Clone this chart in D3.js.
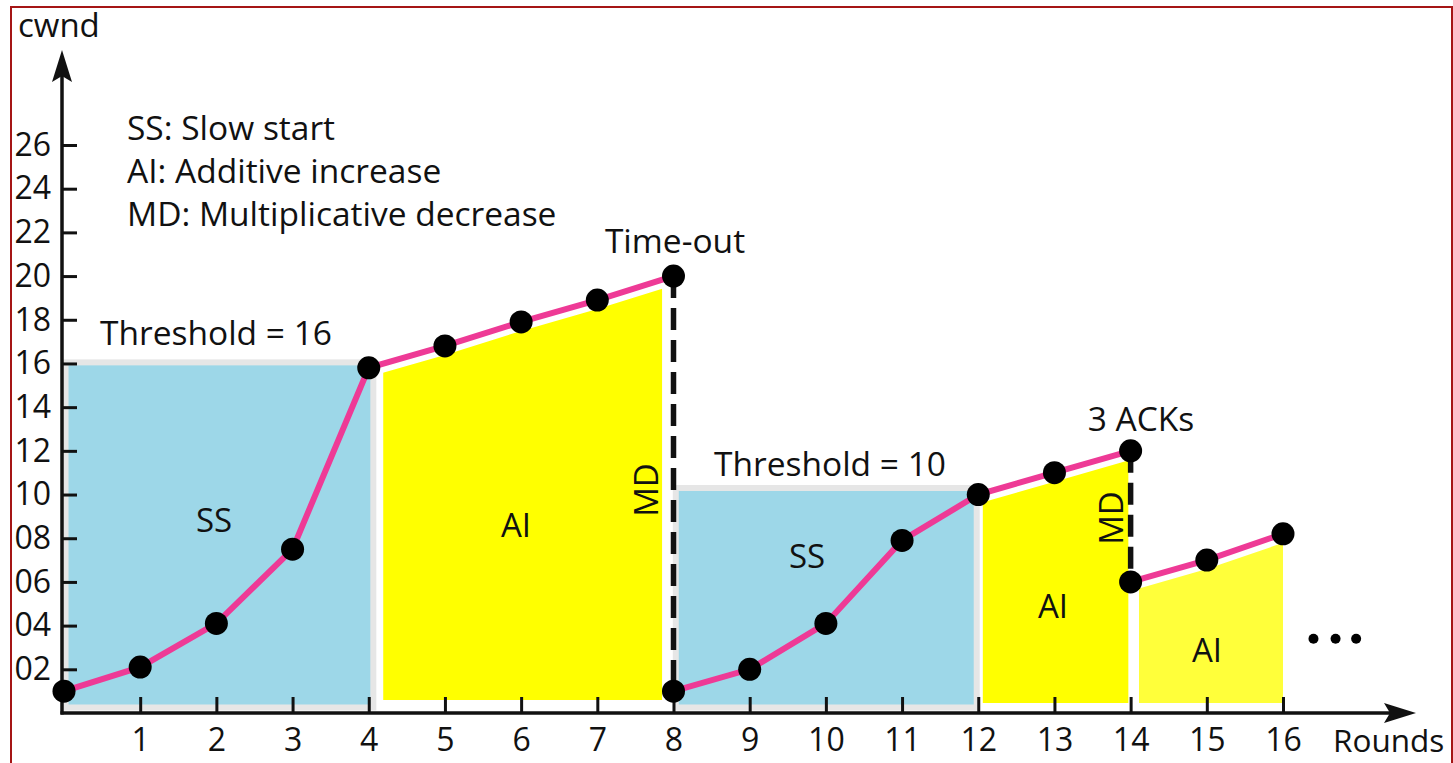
<!DOCTYPE html>
<html>
<head>
<meta charset="utf-8">
<script src="https://cdn.jsdelivr.net/npm/d3@7"></script>
<style>
  body { margin: 0; background: #fff; }
  text { font-family: "Open Sans", "Noto Sans", sans-serif; fill: #111; }
</style>
</head>
<body>
<div id="wrapper"></div>
<script>
// rounds and cwnd values
const rounds1 = [0, 1, 2, 3, 4, 5, 6, 7, 8];
const cwnd1 = [1, 2.1, 4.1, 7.5, 15.8, 16.8, 17.9, 18.9, 20];
const rounds2 = [8, 9, 10, 11, 12, 13, 14];
const cwnd2 = [1, 2, 4.1, 7.9, 10, 11, 12];
const rounds3 = [14, 15, 16];
const cwnd3 = [6, 7, 8.2];

const xTicks = [1, 2, 3, 4, 5, 6, 7, 8, 9, 10, 11, 12, 13, 14, 15, 16];
const yTicks = [2, 4, 6, 8, 10, 12, 14, 16, 18, 20, 22, 24, 26];
const yTickLabels = ["02", "04", "06", "08", "10", "12", "14", "16", "18", "20", "22", "24", "26"];

// slow start boxes: [from round, to round, top]
const ssBoxes = [[0.02, 4.06, 16.05], [8.03, 11.98, 10.3]];
const ssLabels = ["SS", "SS"];
// additive increase areas: [series, from round, to round, base]
const aiAreas = [[1, 4.19, 7.85, 0.6], [2, 12.06, 13.97, 0.46], [3, 14.11, 16.05, 0.46]];
// multiplicative decrease drops: [round, from, to]
const drops = [[8, 20, 1], [14, 12, 6]];
const legend = ["SS: Slow start", "AI: Additive increase", "MD: Multiplicative decrease"];
const ellipsis = [16.4, 16.69, 16.96];

const dimension = { width: 1453, height: 763 };

const svg = d3.select("#wrapper").append("svg")
    .attr("width", dimension.width)
    .attr("height", dimension.height);

const xScaler = d3.scaleLinear().domain([0, 16]).range([64, 1283]);
const yScaler = d3.scaleLinear().domain([0, 26]).range([713, 145]);

// frame
svg.append("rect")
    .attr("x", 11).attr("y", 7)
    .attr("width", 1441).attr("height", 770)
    .attr("fill", "none").attr("stroke", "#a51515").attr("stroke-width", 2);

const series = {
    1: rounds1.map((r, i) => ({ r: r, v: cwnd1[i] })),
    2: rounds2.map((r, i) => ({ r: r, v: cwnd2[i] })),
    3: rounds3.map((r, i) => ({ r: r, v: cwnd3[i] }))
};

// slow start boxes
svg.selectAll(".ss")
    .data(ssBoxes)
    .join("rect")
    .attr("x", d => xScaler(d[0]))
    .attr("y", d => yScaler(d[2]))
    .attr("width", d => xScaler(d[1]) - xScaler(d[0]))
    .attr("height", d => yScaler(0) - 5.5 - yScaler(d[2]))
    .attr("fill", "#9dd7e8")
    .attr("stroke", "#e6e6e6")
    .attr("stroke-width", 6);

// additive increase areas
const defs = svg.append("defs");
aiAreas.forEach((a, i) => {
    defs.append("clipPath").attr("id", "clip" + i)
        .append("rect")
        .attr("x", xScaler(a[1]))
        .attr("y", 0)
        .attr("width", xScaler(a[2]) - xScaler(a[1]))
        .attr("height", yScaler(a[3]));
    const area = d3.area()
        .x(d => xScaler(d.r))
        .y0(yScaler(0))
        .y1(d => yScaler(d.v) + 9);
    svg.append("path")
        .attr("d", area(series[a[0]]))
        .attr("fill", i === 2 ? "#ffff3a" : "#ffff00")
        .attr("clip-path", "url(#clip" + i + ")");
});

// axes
const yAxis = d3.axisLeft(yScaler)
    .tickValues(yTicks)
    .tickFormat((d, i) => yTickLabels[i])
    .tickSize(-15)
    .tickPadding(11);
const yG = svg.append("g").attr("transform", `translate(${xScaler(0) - 2},0)`).call(yAxis);
yG.select(".domain").remove();
yG.selectAll(".tick line").attr("stroke", "#111").attr("stroke-width", 3);
yG.selectAll(".tick text").attr("font-size", 32).attr("fill", "#111")
    .style("font-family", "'Open Sans', sans-serif");

const xAxis = d3.axisBottom(xScaler)
    .tickValues(xTicks)
    .tickSize(-16)
    .tickPadding(15);
const xG = svg.append("g").attr("transform", `translate(0,${yScaler(0)})`).call(xAxis);
xG.select(".domain").remove();
xG.selectAll(".tick line").attr("stroke", "#111").attr("stroke-width", 3);
xG.selectAll(".tick text").attr("font-size", 32).attr("fill", "#111")
    .style("font-family", "'Open Sans', sans-serif");

const ax0 = xScaler(0) - 2, ay0 = yScaler(0);
svg.append("line").attr("x1", ax0).attr("y1", ay0 + 1.5).attr("x2", ax0).attr("y2", 70)
    .attr("stroke", "#111").attr("stroke-width", 3.5);
svg.append("line").attr("x1", ax0 - 1.5).attr("y1", ay0).attr("x2", 1395).attr("y2", ay0)
    .attr("stroke", "#111").attr("stroke-width", 3.5);
svg.append("path")
    .attr("d", `M${ax0},50 L${ax0 + 10},82 L${ax0},76 L${ax0 - 10},82 Z`)
    .attr("fill", "#111");
svg.append("path")
    .attr("d", `M1416,${ay0} L1384,${ay0 - 10} L1390,${ay0} L1384,${ay0 + 10} Z`)
    .attr("fill", "#111");

// multiplicative decrease drops
svg.selectAll(".drop")
    .data(drops)
    .join("line")
    .attr("x1", d => xScaler(d[0])).attr("x2", d => xScaler(d[0]))
    .attr("y1", d => yScaler(d[1])).attr("y2", d => yScaler(d[2]))
    .attr("stroke", "#111").attr("stroke-width", 5.5)
    .attr("stroke-dasharray", "22,10");

// lines
const lineGenerator = d3.line()
    .x(d => xScaler(d.r))
    .y(d => yScaler(d.v));
[1, 2, 3].forEach(k => {
    svg.append("path")
        .attr("d", lineGenerator(series[k]))
        .attr("fill", "none")
        .attr("stroke", "#ee3a96")
        .attr("stroke-width", 6);
});
[1, 2, 3].forEach(k => {
    svg.selectAll(".pt" + k)
        .data(series[k])
        .join("circle")
        .attr("cx", d => xScaler(d.r))
        .attr("cy", d => yScaler(d.v))
        .attr("r", 11.5)
        .attr("fill", "#000");
});

svg.selectAll(".dots")
    .data(ellipsis)
    .join("circle")
    .attr("cx", d => xScaler(d))
    .attr("cy", yScaler(3.4))
    .attr("r", 5)
    .attr("fill", "#000");

// texts
const fs = 33.5;
svg.append("text").attr("x", 18).attr("y", 37).attr("font-size", 33).text("cwnd");
svg.append("text").attr("x", 1333).attr("y", 752).attr("font-size", 31.5).text("Rounds");
legend.forEach((t, i) => {
    svg.append("text").attr("x", 127).attr("y", 140 + i * 43).attr("font-size", fs).text(t);
});
svg.append("text").attr("x", 100).attr("y", 345).attr("font-size", fs).text("Threshold = 16");
svg.append("text").attr("x", 714).attr("y", 476).attr("font-size", fs).text("Threshold = 10");
svg.append("text").attr("x", 675).attr("y", 253).attr("font-size", fs).attr("text-anchor", "middle").text("Time-out");
svg.append("text").attr("x", 1141).attr("y", 431).attr("font-size", fs).attr("text-anchor", "middle").text("3 ACKs");

const regionLabels = [
    [ssLabels[0], 214, 532], ["AI", 516, 537], [ssLabels[1], 807, 568],
    ["AI", 1053, 618], ["AI", 1207, 662]
];
regionLabels.forEach(l => {
    svg.append("text").attr("x", l[1]).attr("y", l[2]).attr("font-size", 33)
        .attr("text-anchor", "middle").text(l[0]);
});
[[658, 490], [1123, 518]].forEach(p => {
    svg.append("text")
        .attr("transform", `translate(${p[0]},${p[1]}) rotate(-90)`)
        .attr("font-size", 33).attr("text-anchor", "middle").text("MD");
});
</script>
</body>
</html>
